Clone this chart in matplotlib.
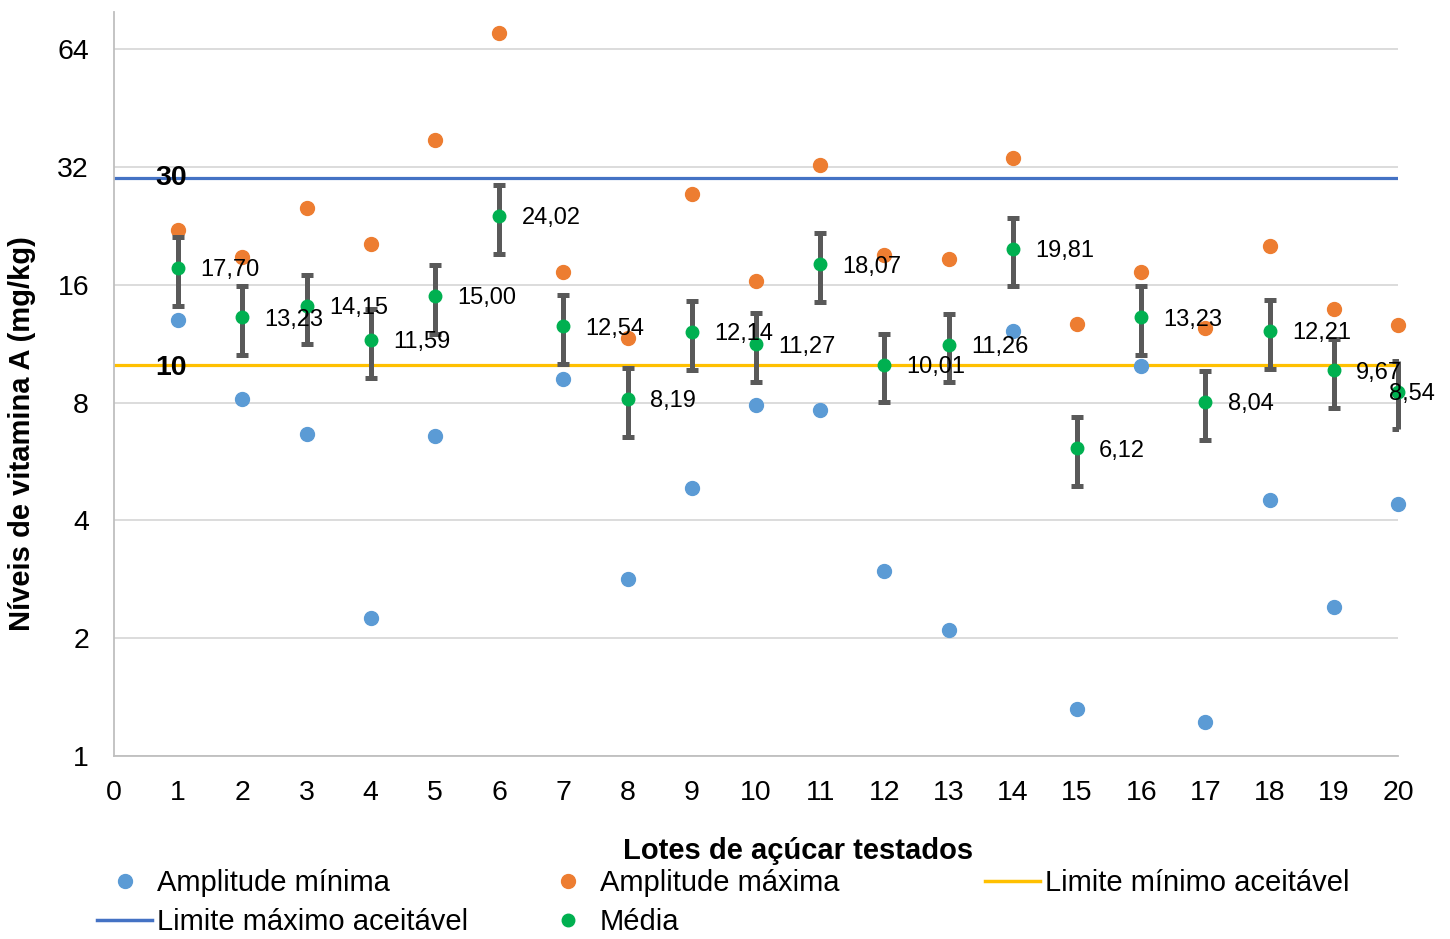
import matplotlib.pyplot as plt
import matplotlib.ticker as mticker
from matplotlib.lines import Line2D
import numpy as np

plt.rcParams['font.family'] = ['Liberation Sans', 'DejaVu Sans']

# data
lotes = list(range(1, 21))
amp_min = [13.0, 8.17, 6.65, 2.25, 6.57, np.nan, 9.19, 2.83, 4.84, 7.89,
           7.66, 2.97, 2.10, 12.2, 1.32, 9.92, 1.22, 4.51, 2.40, 4.41]
amp_max = [22.1, 18.8, 25.1, 20.3, 37.5, 70.4, 17.3, 11.7, 27.3, 16.4,
           32.4, 19.1, 18.6, 33.7, 12.7, 17.3, 12.4, 20.1, 13.9, 12.6]
media = [17.70, 13.23, 14.15, 11.59, 15.00, 24.02, 12.54, 8.19, 12.14, 11.27,
         18.07, 10.01, 11.26, 19.81, 6.12, 13.23, 8.04, 12.21, 9.67, 8.54]
erro_pct = 0.20  # error bars: 20 % of the mean
lim_max = 30
lim_min = 10
y_ticks = [1, 2, 4, 8, 16, 32, 64]

c_min = '#5B9BD5'
c_max = '#ED7D31'
c_med = '#00B050'
c_lmax = '#4472C4'
c_lmin = '#FFC000'
c_err = '#595959'

fig = plt.figure(figsize=(14.5, 9.39), dpi=100)
ax = fig.add_axes([114/1450, 1 - 756/939, (1398 - 114)/1450, (756 - 12)/939])

ax.set_yscale('log', base=2)
ax.set_ylim(1, 79.7)
ax.set_xlim(0, 20)
ax.set_yticks(y_ticks)
ax.yaxis.set_major_formatter(mticker.FuncFormatter(lambda v, p: f'{v:g}'))
ax.yaxis.set_minor_locator(mticker.NullLocator())
ax.set_xticks(range(0, 21))
ax.tick_params(axis='both', length=0, labelsize=20.5)
ax.tick_params(axis='y', pad=18)
ax.tick_params(axis='x', pad=17)
ax.grid(axis='y', color='#D9D9D9', lw=1.3)
ax.set_axisbelow(True)
for s in ['top', 'right']:
    ax.spines[s].set_visible(False)
for s in ['left', 'bottom']:
    ax.spines[s].set_color('#BFBFBF')
    ax.spines[s].set_linewidth(1.3)

# acceptable limits
ax.plot([0, 20], [lim_max, lim_max], color=c_lmax, lw=2.3, zorder=2)
ax.plot([0, 20], [lim_min, lim_min], color=c_lmin, lw=2.3, zorder=2)
ax.text(0.89, lim_max, str(lim_max), fontsize=20.5, fontweight='bold', ha='center',
        va='center', zorder=6)
ax.text(0.89, lim_min, str(lim_min), fontsize=20.5, fontweight='bold', ha='center',
        va='center_baseline', zorder=6)

ax.plot(lotes, amp_min, 'o', color=c_min, ms=10, ls='none', zorder=3, clip_on=False)
ax.plot(lotes, amp_max, 'o', color=c_max, ms=10, ls='none', zorder=3, clip_on=False)

yerr = [m * erro_pct for m in media]
eb = ax.errorbar(lotes, media, yerr=yerr, fmt='none', ecolor=c_err, elinewidth=3.6,
                 capsize=4.5, capthick=3.6, zorder=4)
for art in eb.lines[2]:
    art.set_clip_on(False)
ax.plot(lotes, media, 'o', color=c_med, ms=9, ls='none', zorder=5, clip_on=False)

for i, (x, m) in enumerate(zip(lotes, media)):
    dx = 16 if i < len(lotes) - 1 else -6.5
    ax.annotate(f'{m:.2f}'.replace('.', ','), (x, m), xytext=(dx, 0),
                textcoords='offset points', fontsize=17, ha='left', va='center_baseline',
                zorder=6, annotation_clip=False)

ax.set_xlabel('Lotes de açúcar testados', fontsize=21, fontweight='bold', va='center')
ax.set_ylabel('Níveis de vitamina A (mg/kg)', fontsize=21, fontweight='bold', va='center')
ax.xaxis.set_label_coords((798 - 114)/1284, (756 - 851)/744)
ax.yaxis.set_label_coords((22 - 114)/1284, (756 - 434)/744)

# legend: three column blocks like Excel
h_min = Line2D([], [], marker='o', color=c_min, ls='none', ms=10)
h_max = Line2D([], [], marker='o', color=c_max, ls='none', ms=10)
h_med = Line2D([], [], marker='o', color=c_med, ls='none', ms=9)
h_lmin = Line2D([], [], color=c_lmin, lw=2.5)
h_lmax = Line2D([], [], color=c_lmax, lw=2.5)

cols = [([h_min, h_lmax], ['Amplitude mínima', 'Limite máximo aceitável'], 97),
        ([h_max, h_med], ['Amplitude máxima', 'Média'], 540),
        ([h_lmin], ['Limite mínimo aceitável'], 985)]
for hs, ls, xpx in cols:
    fig.legend(hs, ls, loc='upper left', bbox_to_anchor=(xpx/1450, 1 - 869/939),
               frameon=False, fontsize=21, handlelength=1.9, handletextpad=0.15,
               labelspacing=0.38, borderpad=0, borderaxespad=0)

fig.savefig('out.png', dpi=100)
